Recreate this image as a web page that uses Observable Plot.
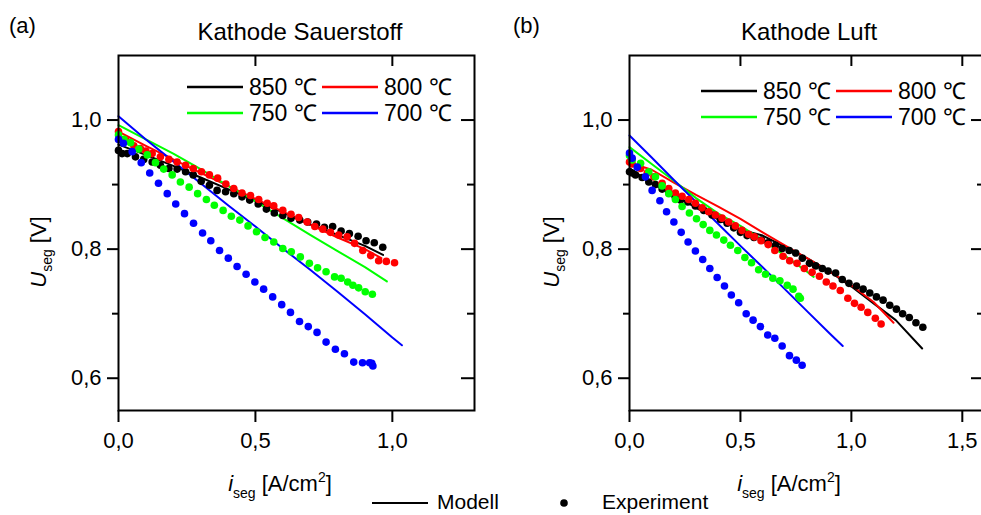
<!DOCTYPE html>
<html><head><meta charset="utf-8">
<script src="https://cdn.jsdelivr.net/npm/d3@7"></script>
<script src="https://cdn.jsdelivr.net/npm/@observablehq/plot@0.6"></script>
<style>
html,body{margin:0;padding:0;background:#fff;overflow:hidden;}
#root{position:relative;width:981px;height:515px;overflow:hidden;font-family:"Liberation Sans",Arial,sans-serif;}
#root > svg{position:absolute;top:0;}
</style></head><body><div id="root"></div>
<script>
// ---------- DATA ----------
const temps = ["850", "800", "750", "700"];
const tempColors = ["#000000", "#ff0000", "#00ff00", "#0000ff"];
const legendLabels = ["850 \u2103", "800 \u2103", "750 \u2103", "700 \u2103"];
const yTicks = [0.6, 0.8, 1.0];
const yMinorTicks = [0.7, 0.9];
const xTicksA = [0.0, 0.5, 1.0];
const xTicksB = [0.0, 0.5, 1.0, 1.5];

// (a) Kathode Sauerstoff — model
const sauerModell850 = [[0,0.962],[0.1,0.946],[0.2,0.929],[0.3,0.911],[0.4,0.893],[0.5,0.875],[0.6,0.857],[0.7,0.838],[0.8,0.822],[0.9,0.805],[0.966,0.791]];
const sauerModell800 = [[0,0.982],[0.1,0.960],[0.2,0.939],[0.3,0.918],[0.4,0.898],[0.5,0.878],[0.6,0.858],[0.7,0.838],[0.8,0.818],[0.9,0.800],[0.96,0.786]];
const sauerModell750 = [[0,0.992],[0.1,0.970],[0.2,0.948],[0.3,0.924],[0.4,0.898],[0.5,0.874],[0.6,0.848],[0.7,0.822],[0.8,0.797],[0.9,0.772],[0.98,0.750]];
const sauerModell700 = [[0,1.006],[0.1,0.970],[0.2,0.936],[0.3,0.902],[0.4,0.868],[0.5,0.835],[0.6,0.801],[0.7,0.768],[0.8,0.734],[0.9,0.699],[1.0,0.663],[1.035,0.651]];
// (a) Kathode Sauerstoff — experiment
const sauerExp850 = [[0.000,0.953],[0.013,0.948],[0.032,0.948],[0.062,0.943],[0.092,0.939],[0.123,0.935],[0.153,0.930],[0.184,0.925],[0.214,0.924],[0.245,0.920],[0.273,0.915],[0.302,0.905],[0.332,0.899],[0.360,0.891],[0.391,0.889],[0.421,0.886],[0.451,0.881],[0.479,0.876],[0.510,0.870],[0.540,0.862],[0.569,0.856],[0.600,0.852],[0.630,0.848],[0.662,0.845],[0.691,0.842],[0.723,0.839],[0.752,0.834],[0.782,0.835],[0.813,0.828],[0.843,0.824],[0.875,0.820],[0.904,0.813],[0.934,0.810],[0.965,0.803]];
const sauerExp800 = [[0.000,0.982],[0.028,0.968],[0.056,0.960],[0.080,0.956],[0.100,0.952],[0.123,0.948],[0.153,0.943],[0.184,0.939],[0.214,0.935],[0.245,0.930],[0.273,0.925],[0.303,0.920],[0.332,0.915],[0.362,0.910],[0.392,0.901],[0.421,0.894],[0.451,0.887],[0.482,0.883],[0.512,0.877],[0.543,0.871],[0.567,0.867],[0.600,0.860],[0.630,0.854],[0.658,0.849],[0.689,0.842],[0.717,0.835],[0.746,0.831],[0.774,0.826],[0.804,0.822],[0.835,0.819],[0.862,0.809],[0.892,0.798],[0.921,0.790],[0.950,0.782],[0.978,0.781],[1.008,0.779]];
const sauerExp750 = [[0.000,0.977],[0.020,0.970],[0.044,0.965],[0.074,0.955],[0.105,0.946],[0.135,0.934],[0.165,0.924],[0.196,0.915],[0.226,0.904],[0.258,0.896],[0.289,0.886],[0.321,0.877],[0.350,0.868],[0.382,0.860],[0.412,0.851],[0.443,0.845],[0.473,0.836],[0.504,0.827],[0.535,0.818],[0.567,0.811],[0.600,0.801],[0.631,0.796],[0.664,0.788],[0.697,0.778],[0.727,0.771],[0.758,0.765],[0.789,0.757],[0.813,0.755],[0.837,0.749],[0.856,0.744],[0.877,0.740],[0.901,0.734],[0.927,0.730]];
const sauerExp700 = [[0.000,0.970],[0.018,0.964],[0.050,0.951],[0.083,0.934],[0.114,0.918],[0.146,0.902],[0.178,0.886],[0.209,0.870],[0.241,0.855],[0.274,0.840],[0.307,0.825],[0.337,0.813],[0.369,0.798],[0.401,0.786],[0.433,0.773],[0.466,0.761],[0.498,0.749],[0.530,0.738],[0.563,0.726],[0.596,0.714],[0.628,0.702],[0.661,0.688],[0.693,0.680],[0.725,0.671],[0.758,0.656],[0.792,0.645],[0.825,0.638],[0.859,0.625],[0.891,0.624],[0.917,0.624],[0.925,0.623],[0.929,0.619]];

// (b) Kathode Luft — model
const luftModell850 = [[0,0.925],[0.1,0.902],[0.2,0.885],[0.3,0.864],[0.4,0.846],[0.5,0.830],[0.6,0.821],[0.7,0.804],[0.8,0.786],[0.9,0.766],[1.0,0.742],[1.1,0.716],[1.2,0.690],[1.319,0.646]];
const luftModell800 = [[0,0.934],[0.1,0.923],[0.2,0.903],[0.3,0.884],[0.4,0.866],[0.5,0.847],[0.6,0.826],[0.7,0.806],[0.8,0.786],[0.9,0.766],[1.0,0.744],[1.1,0.718],[1.19,0.686]];
const luftModell750 = [[0,0.958],[0.1,0.932],[0.2,0.906],[0.3,0.879],[0.4,0.855],[0.5,0.836],[0.6,0.814],[0.7,0.790],[0.8,0.765],[0.83,0.757]];
const luftModell700 = [[0,0.976],[0.1,0.942],[0.2,0.907],[0.3,0.873],[0.4,0.839],[0.5,0.805],[0.6,0.772],[0.7,0.738],[0.8,0.704],[0.9,0.670],[0.961,0.650]];
// (b) Kathode Luft — experiment
const luftExp850 = [[0.000,0.920],[0.012,0.918],[0.027,0.915],[0.057,0.911],[0.087,0.904],[0.117,0.900],[0.147,0.893],[0.177,0.888],[0.205,0.882],[0.230,0.876],[0.263,0.873],[0.297,0.867],[0.335,0.860],[0.372,0.853],[0.410,0.846],[0.440,0.840],[0.470,0.833],[0.500,0.826],[0.530,0.821],[0.561,0.818],[0.595,0.814],[0.625,0.810],[0.658,0.806],[0.688,0.801],[0.720,0.798],[0.749,0.794],[0.779,0.786],[0.811,0.778],[0.839,0.774],[0.869,0.770],[0.895,0.766],[0.929,0.763],[0.959,0.753],[0.989,0.747],[1.023,0.743],[1.053,0.738],[1.083,0.732],[1.113,0.726],[1.143,0.721],[1.173,0.713],[1.203,0.707],[1.231,0.700],[1.261,0.694],[1.291,0.686],[1.322,0.679]];
const luftExp800 = [[0.000,0.935],[0.012,0.932],[0.050,0.925],[0.080,0.918],[0.110,0.912],[0.147,0.902],[0.177,0.894],[0.207,0.887],[0.237,0.882],[0.267,0.877],[0.297,0.871],[0.327,0.864],[0.357,0.858],[0.387,0.853],[0.417,0.848],[0.447,0.842],[0.477,0.836],[0.507,0.829],[0.537,0.823],[0.563,0.819],[0.593,0.813],[0.625,0.807],[0.655,0.798],[0.692,0.789],[0.722,0.782],[0.755,0.778],[0.788,0.770],[0.823,0.764],[0.856,0.758],[0.887,0.749],[0.917,0.743],[0.950,0.736],[0.984,0.724],[1.014,0.716],[1.044,0.710],[1.074,0.702],[1.108,0.693],[1.134,0.684]];
const luftExp750 = [[0.000,0.945],[0.012,0.938],[0.050,0.933],[0.087,0.920],[0.117,0.912],[0.147,0.898],[0.177,0.886],[0.207,0.877],[0.237,0.866],[0.270,0.856],[0.302,0.847],[0.332,0.838],[0.362,0.829],[0.392,0.822],[0.425,0.814],[0.455,0.806],[0.488,0.798],[0.520,0.787],[0.550,0.779],[0.582,0.768],[0.613,0.761],[0.646,0.755],[0.678,0.751],[0.711,0.744],[0.737,0.738],[0.763,0.727],[0.770,0.724]];
const luftExp700 = [[0.000,0.949],[0.012,0.941],[0.035,0.927],[0.072,0.912],[0.102,0.891],[0.137,0.875],[0.167,0.858],[0.200,0.842],[0.233,0.826],[0.264,0.811],[0.297,0.797],[0.330,0.784],[0.362,0.770],[0.395,0.756],[0.428,0.743],[0.459,0.729],[0.492,0.717],[0.526,0.700],[0.557,0.690],[0.590,0.680],[0.623,0.667],[0.655,0.662],[0.688,0.650],[0.721,0.635],[0.752,0.628],[0.778,0.620]];

// ---------- BUILD ----------
const FONT = '"Liberation Sans", Arial, Helvetica, sans-serif';
const fmt = d => d.toFixed(1).replace(".", ",");
function rows(list) {
  const out = [];
  list.forEach((s, i) => s.forEach(([x, y]) => out.push({t: temps[i], x, y})));
  return out;
}
const H = 515, MT = 55, MB = 105, FH = H - MT - MB;

function panel({models, exps, xDomain, xTicks, width, marginLeft, marginRight, left}) {
  const FW = width - marginLeft - marginRight;
  const topTicks = xTicks.filter(d => d > 0);
  const svg = Plot.plot({
    width, height: H, marginLeft, marginRight, marginTop: MT, marginBottom: MB,
    style: {fontFamily: FONT, background: "transparent", overflow: "visible", color: "black"},
    x: {domain: xDomain},
    y: {domain: [0.55, 1.1]},
    color: {domain: temps, range: tempColors},
    marks: [
      Plot.line(rows(models), {x: "x", y: "y", z: "t", stroke: "t", strokeWidth: 2}),
      Plot.dot(rows(exps), {x: "x", y: "y", fill: "t", r: 3.8}),
      Plot.frame({stroke: "black", strokeWidth: 2}),
      Plot.axisY(yTicks, {anchor: "left", tickSize: 11, tickPadding: 6, tickFormat: fmt, fontSize: 22, strokeWidth: 2, label: null}),
      Plot.axisY(yMinorTicks, {anchor: "left", tickSize: 6, tickFormat: () => "", strokeWidth: 2, label: null}),
      Plot.axisX(xTicks, {anchor: "bottom", tickSize: 12, tickPadding: 10, tickFormat: fmt, fontSize: 22, strokeWidth: 2, label: null}),
      Plot.tickX(topTicks, {x: d => d, insetBottom: FH - 11, strokeWidth: 2}),
      Plot.tickY(yTicks, {y: d => d, insetLeft: FW - 13, strokeWidth: 2}),
      Plot.tickY(yMinorTicks, {y: d => d, insetLeft: FW - 7, strokeWidth: 2})
    ]
  });
  svg.style.left = left + "px";
  document.getElementById("root").appendChild(svg);
}

panel({
  models: [sauerModell850, sauerModell800, sauerModell750, sauerModell700],
  exps: [sauerExp850, sauerExp800, sauerExp750, sauerExp700],
  xDomain: [0, 1.3], xTicks: xTicksA, width: 500, marginLeft: 118, marginRight: 26, left: 0
});
panel({
  models: [luftModell850, luftModell800, luftModell750, luftModell700],
  exps: [luftExp850, luftExp800, luftExp750, luftExp700],
  xDomain: [0, 1.6], xTicks: xTicksB, width: 484, marginLeft: 129, marginRight: 0, left: 500
});

// ---------- OVERLAY TEXT / LEGENDS ----------
const ov = d3.select("#root").append("svg")
  .attr("width", 981).attr("height", 515)
  .style("left", "0px").style("font-family", FONT).style("pointer-events", "none");

function txt(x, y, s, size, anchor = "start") {
  return ov.append("text").attr("x", x).attr("y", y).attr("font-size", size)
    .attr("text-anchor", anchor).attr("fill", "black").text(s);
}
txt(9, 33, "(a)", 22);
txt(300, 40, "Kathode Sauerstoff", 24, "middle");
txt(513, 33, "(b)", 22);
txt(809, 40, "Kathode Luft", 24, "middle");

function yLabel(x, y) {
  const t = ov.append("text").attr("transform", `translate(${x},${y}) rotate(-90)`)
    .attr("text-anchor", "middle").attr("font-size", 22).attr("fill", "black");
  t.append("tspan").attr("font-style", "italic").text("U");
  t.append("tspan").attr("font-size", 14).attr("dy", 6).text("seg");
  t.append("tspan").attr("dy", -6).text(" [V]");
}
yLabel(46, 252);
yLabel(559, 252);

function xLabel(x, y) {
  const t = ov.append("text").attr("x", x).attr("y", y)
    .attr("text-anchor", "middle").attr("font-size", 22).attr("fill", "black");
  t.append("tspan").attr("font-style", "italic").text("i");
  t.append("tspan").attr("font-size", 14).attr("dy", 7).text("seg");
  t.append("tspan").attr("dy", -7).text(" [A/cm");
  t.append("tspan").attr("font-size", 14).attr("dy", -9).text("2");
  t.append("tspan").attr("dy", 9).text("]");
}
xLabel(280, 491);
xLabel(789, 491);

function panelLegend(x0, y0) {
  const pos = [[0, 0], [135, 0], [0, 26], [135, 26]];
  temps.forEach((t, i) => {
    const [dx, dy] = pos[i];
    ov.append("line").attr("x1", x0 + dx).attr("x2", x0 + dx + 56)
      .attr("y1", y0 + dy).attr("y2", y0 + dy)
      .attr("stroke", tempColors[i]).attr("stroke-width", 2.5);
    txt(x0 + dx + 62, y0 + dy + 8, legendLabels[i], 23);
  });
}
panelLegend(187, 87);
panelLegend(701, 91);

ov.append("line").attr("x1", 372).attr("x2", 428).attr("y1", 503).attr("y2", 503)
  .attr("stroke", "black").attr("stroke-width", 2);
txt(437, 509, "Modell", 21);
ov.append("circle").attr("cx", 564).attr("cy", 503).attr("r", 3.8).attr("fill", "black");
txt(602, 509, "Experiment", 21);
</script></body></html>
